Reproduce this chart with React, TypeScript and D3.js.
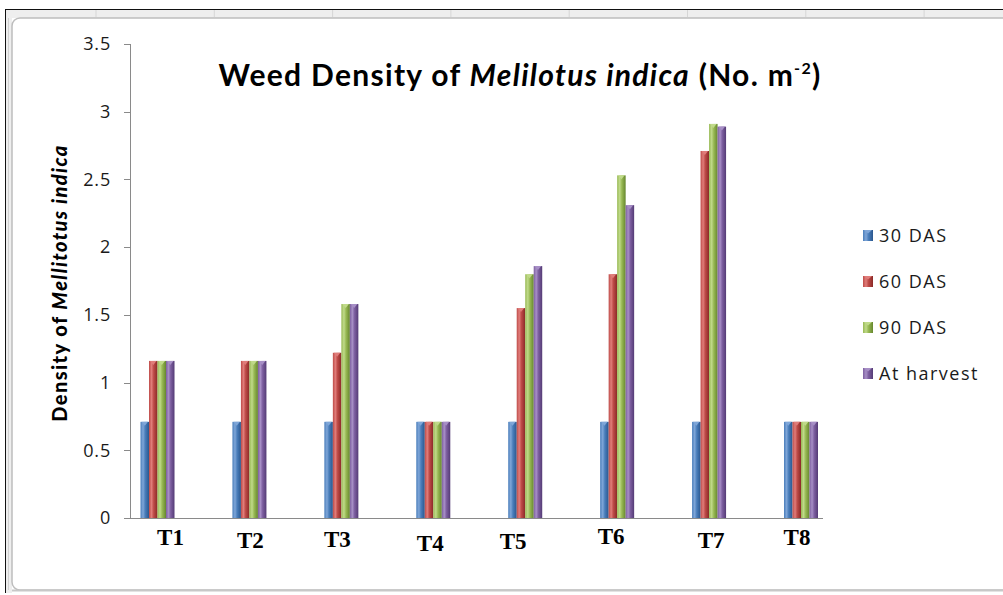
import React from "react";
import * as d3 from "d3";

// Treatments and sampling stages
const categories = ["T1", "T2", "T3", "T4", "T5", "T6", "T7", "T8"];
const seriesNames = ["30 DAS", "60 DAS", "90 DAS", "At harvest"];

// Weed density (transformed values) per treatment
const das30 = [0.71, 0.71, 0.71, 0.71, 0.71, 0.71, 0.71, 0.71];
const das60 = [1.16, 1.16, 1.22, 0.71, 1.55, 1.8, 2.71, 0.71];
const das90 = [1.16, 1.16, 1.58, 0.71, 1.8, 2.53, 2.91, 0.71];
const atHarvest = [1.16, 1.16, 1.58, 0.71, 1.86, 2.31, 2.89, 0.71];

const yTicks = [0, 0.5, 1, 1.5, 2, 2.5, 3, 3.5];

// Styling
const seriesColors = [
  { base: "#4A7EBB", light: "#7FA6D8", dark: "#2A578E" },
  { base: "#BE4B48", light: "#E07D7A", dark: "#8A2927" },
  { base: "#98B954", light: "#C0DA8A", dark: "#66872E" },
  { base: "#7D5FA0", light: "#A78FC6", dark: "#543B75" },
];
// Hand-placed category label boxes: shift from group centre
const labelShiftX = [13, 1, -4, -3, -12, -6, 2, -4];
const labelShiftY = [0, 3, 2, 6, 4, -1, 3, 0];

const W = 1003;
const H = 595;

export default function App() {
  const seriesValues = [das30, das60, das90, atHarvest];

  const y = d3.scaleLinear().domain([0, 3.5]).range([518, 44]);
  const x = d3.scalePoint<string>().domain(categories).range([157.5, 801]);
  const inner = d3.scaleBand<string>().domain(seriesNames).range([-17, 17]).padding(0);

  const axisX = 130;
  const axisEnd = 823;
  const fmt = (v: number) => String(v);

  const headerCols = d3.range(96, W, 118.3);

  return (
    <div style={{ position: "absolute", left: 0, top: 0 }}>
      <svg width={W} height={H} style={{ display: "block", background: "#fff" }}>
        <defs>
          {seriesColors.map((c, i) => (
            <linearGradient key={i} id={`bar${i}`} x1="0" x2="1" y1="0" y2="0">
              <stop offset="0" stopColor={c.base} />
              <stop offset="0.3" stopColor={c.light} />
              <stop offset="0.55" stopColor={c.base} />
              <stop offset="1" stopColor={c.dark} />
            </linearGradient>
          ))}
        </defs>

        {/* spreadsheet frame behind the chart object */}
        <rect x={5} y={9} width={W} height={9} fill="#eeeeee" />
        <rect x={5} y={9} width={7} height={584} fill="#eeeeee" />
        {headerCols.map((hx, i) => (
          <line key={i} x1={hx} x2={hx} y1={10} y2={17} stroke="#d6d6d6" />
        ))}
        <line x1={5} x2={W} y1={9.5} y2={9.5} stroke="#111" />
        <line x1={5.5} x2={5.5} y1={9} y2={593} stroke="#111" />
        <line x1={8.5} x2={8.5} y1={18} y2={590} stroke="#d0d0d0" />
        <rect x={12} y={18} width={W + 20} height={572} rx={8} fill="#fff" stroke="#bdbdbd" strokeWidth={1.5} />
        <line x1={12} x2={W} y1={590.5} y2={590.5} stroke="#c8c8c8" strokeWidth={2} />

        {/* title */}
        <text x={520} y={86} textAnchor="middle" fontFamily="Lato, 'Open Sans', sans-serif" fontWeight="bold" fontSize={30} letterSpacing={1.3} fill="#000">
          <tspan>Weed Density of </tspan>
          <tspan fontStyle="italic">Melilotus indica</tspan>
          <tspan> (No. m</tspan>
          <tspan fontSize={16} dy={-12}>-2</tspan>
          <tspan dy={12}>)</tspan>
        </text>

        {/* y axis */}
        <line x1={axisX + 0.5} x2={axisX + 0.5} y1={y(3.5)} y2={y(0)} stroke="#8a8a8a" />
        {yTicks.map((t) => (
          <g key={t}>
            <line x1={axisX - 6} x2={axisX} y1={Math.round(y(t)) + 0.5} y2={Math.round(y(t)) + 0.5} stroke="#8a8a8a" />
            <text x={111} y={y(t)} dy="0.35em" textAnchor="end" fontFamily="'Open Sans', sans-serif" fontSize={18} letterSpacing={0.8} fill="#1a1a1a">
              {fmt(t)}
            </text>
          </g>
        ))}
        <text
          transform={`translate(67,283) rotate(-90)`}
          textAnchor="middle"
          fontFamily="Lato, 'Open Sans', sans-serif"
          fontWeight="900"
          fontSize={20}
          letterSpacing={1.4}
          fill="#000"
        >
          <tspan>Density of </tspan>
          <tspan fontStyle="italic">Mellitotus indica</tspan>
        </text>

        {/* bars */}
        {categories.map((cat, ci) => (
          <g key={cat}>
            {seriesNames.map((s, si) => {
              const v = seriesValues[si][ci];
              const bx = (x(cat) as number) + (inner(s) as number);
              const bw = inner.bandwidth();
              const top = y(v);
              const c = seriesColors[si];
              return (
                <g key={s}>
                  <rect x={bx} y={top} width={bw} height={y(0) - top} fill={`url(#bar${si})`} />
                  <polygon
                    points={`${bx + 1},${top} ${bx + bw - 1},${top} ${bx + bw / 2},${top + 4}`}
                    fill={c.light}
                  />
                </g>
              );
            })}
          </g>
        ))}

        {/* x axis */}
        <line x1={axisX - 6} x2={axisEnd} y1={518.5} y2={518.5} stroke="#8a8a8a" />
        {categories.map((cat, ci) => (
          <text
            key={cat}
            x={(x(cat) as number) + labelShiftX[ci]}
            y={545 + labelShiftY[ci]}
            textAnchor="middle"
            fontFamily="'Liberation Serif', 'Times New Roman', serif"
            fontWeight="bold"
            fontSize={23}
            fill="#000"
          >
            {cat}
          </text>
        ))}

        {/* legend */}
        {seriesNames.map((s, si) => {
          const ly = 235.5 + si * 46;
          const c = seriesColors[si];
          return (
            <g key={s}>
              <rect x={863} y={ly - 5.5} width={10} height={11} fill={`url(#bar${si})`} />
              <polygon points={`${864},${ly - 5.5} ${872},${ly - 5.5} ${868},${ly - 2}`} fill={c.light} />
              <text x={879} y={ly} dy="0.36em" fontFamily="'Open Sans', sans-serif" fontSize={18} letterSpacing={1.5} fill="#1a1a1a">
                {s}
              </text>
            </g>
          );
        })}
      </svg>
    </div>
  );
}
